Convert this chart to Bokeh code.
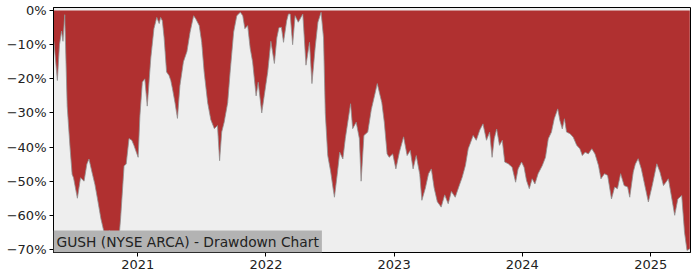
import pandas as pd
from bokeh.plotting import figure
from bokeh.models import Range1d, FixedTicker, DatetimeTickFormatter, CustomJSTickFormatter, Label, ColumnDataSource
from bokeh.embed import file_html
from bokeh.resources import INLINE

dates = [
    "2020-05-07", "2020-05-17", "2020-05-23", "2020-05-29", "2020-06-02", "2020-06-07", "2020-06-14",
    "2020-06-22", "2020-06-28", "2020-07-02", "2020-07-13", "2020-07-22", "2020-08-01", "2020-08-09",
    "2020-08-15", "2020-08-25", "2020-09-01", "2020-09-08", "2020-09-18", "2020-09-27", "2020-10-05",
    "2020-10-11", "2020-10-19", "2020-10-25", "2020-11-04", "2020-11-09", "2020-11-13", "2020-11-23",
    "2020-11-29", "2020-12-07", "2020-12-15", "2020-12-21", "2021-01-02", "2021-01-07", "2021-01-14",
    "2021-01-21", "2021-01-28", "2021-02-07", "2021-02-16", "2021-02-24", "2021-03-03", "2021-03-07",
    "2021-03-12", "2021-03-17", "2021-03-24", "2021-03-31", "2021-04-05", "2021-04-10", "2021-04-17",
    "2021-04-24", "2021-05-01", "2021-05-11", "2021-05-21", "2021-05-30", "2021-06-09", "2021-06-15",
    "2021-06-25", "2021-07-02", "2021-07-09", "2021-07-19", "2021-07-28", "2021-08-07", "2021-08-16",
    "2021-08-22", "2021-08-28", "2021-09-04", "2021-09-14", "2021-09-21", "2021-10-01", "2021-10-10",
    "2021-10-20", "2021-10-27", "2021-11-02", "2021-11-10", "2021-11-17", "2021-11-24", "2021-12-04",
    "2021-12-10", "2021-12-20", "2021-12-27", "2022-01-06", "2022-01-15", "2022-01-25", "2022-02-01",
    "2022-02-07", "2022-02-14", "2022-02-20", "2022-03-01", "2022-03-06", "2022-03-11", "2022-03-18",
    "2022-03-25", "2022-04-03", "2022-04-16", "2022-04-25", "2022-05-05", "2022-05-12", "2022-05-21",
    "2022-05-29", "2022-06-07", "2022-06-14", "2022-06-19", "2022-06-26", "2022-07-04", "2022-07-11",
    "2022-07-15", "2022-07-23", "2022-07-30", "2022-08-08", "2022-08-15", "2022-08-22", "2022-08-30",
    "2022-09-05", "2022-09-15", "2022-09-24", "2022-09-29", "2022-10-07", "2022-10-18", "2022-10-28",
    "2022-11-06", "2022-11-14", "2022-11-20", "2022-11-27", "2022-12-04", "2022-12-12", "2022-12-18",
    "2022-12-28", "2023-01-06", "2023-01-16", "2023-01-28", "2023-02-07", "2023-02-16", "2023-02-24",
    "2023-03-05", "2023-03-15", "2023-03-21", "2023-03-31", "2023-04-09", "2023-04-17", "2023-04-25",
    "2023-05-04", "2023-05-15", "2023-05-25", "2023-06-04", "2023-06-13", "2023-06-24", "2023-07-04",
    "2023-07-14", "2023-07-23", "2023-07-31", "2023-08-07", "2023-08-14", "2023-08-23", "2023-09-02",
    "2023-09-11", "2023-09-21", "2023-09-30", "2023-10-07", "2023-10-13", "2023-10-20", "2023-10-28",
    "2023-11-05", "2023-11-12", "2023-11-22", "2023-12-03", "2023-12-13", "2023-12-20", "2023-12-30",
    "2024-01-06", "2024-01-13", "2024-01-21", "2024-01-29", "2024-02-06", "2024-02-15", "2024-02-27",
    "2024-03-07", "2024-03-15", "2024-03-24", "2024-04-01", "2024-04-11", "2024-04-17", "2024-04-24",
    "2024-04-30", "2024-05-06", "2024-05-16", "2024-05-25", "2024-06-04", "2024-06-13", "2024-06-20",
    "2024-06-28", "2024-07-07", "2024-07-17", "2024-07-26", "2024-08-05", "2024-08-12", "2024-08-22",
    "2024-08-31", "2024-09-11", "2024-09-20", "2024-09-28", "2024-10-07", "2024-10-17", "2024-10-27",
    "2024-11-02", "2024-11-12", "2024-11-18", "2024-11-26", "2024-12-05", "2024-12-15", "2024-12-25",
    "2025-01-05", "2025-01-18", "2025-01-27", "2025-02-06", "2025-02-13", "2025-02-20", "2025-03-02",
    "2025-03-10", "2025-03-19", "2025-03-30", "2025-04-07", "2025-04-14", "2025-04-22",
]

drawdown = [
    -9.0, -20.5, -10.0, -6.0, -9.0, -1.2, -28.0,
    -40.0, -48.0, -49.0, -55.0, -49.0, -50.0, -45.0,
    -43.5, -48.0, -51.0, -55.0, -61.0, -65.0, -66.0,
    -64.5, -65.0, -66.5, -69.0, -66.0, -61.0, -45.5,
    -45.0, -37.5, -38.0, -39.5, -43.0, -31.0, -21.0,
    -20.0, -28.0, -14.0, -5.3, -2.0, -3.8, -2.0,
    -3.0, -8.0, -18.0, -19.0, -20.5, -23.0, -27.0,
    -31.6, -22.0, -15.0, -12.0, -6.3, -1.5, -2.4,
    -4.4, -9.3, -18.0, -27.0, -32.0, -34.6, -33.7,
    -44.0, -35.6, -32.7, -27.0, -18.0, -6.3, -1.5,
    -0.5, -1.5, -5.3, -4.4, -11.0, -15.0, -25.0,
    -21.0, -30.0, -25.0, -18.0, -9.0, -15.5, -8.0,
    -5.0, -4.9, -9.3, -3.0, -1.0, -1.0, -10.0,
    -1.5, -3.4, -1.0, -16.0, -9.3, -21.4, -11.0,
    -3.4, -0.5, -8.0, -30.0, -42.5, -47.0, -52.0,
    -54.7, -48.0, -41.5, -43.5, -37.5, -32.7, -27.3,
    -34.6, -32.7, -37.5, -50.0, -36.6, -35.6, -29.0,
    -25.0, -21.4, -24.0, -27.0, -32.7, -42.0, -43.0,
    -42.0, -46.4, -41.5, -37.0, -42.5, -41.0, -46.4,
    -42.5, -48.0, -55.6, -52.0, -47.8, -46.4, -52.0,
    -56.0, -57.6, -54.0, -56.6, -53.0, -54.7, -51.7,
    -48.8, -45.4, -40.5, -38.6, -36.6, -38.0, -35.0,
    -33.2, -38.0, -35.6, -43.0, -37.6, -34.7, -39.5,
    -38.0, -44.4, -44.9, -45.9, -50.3, -46.4, -44.4,
    -45.9, -49.8, -52.2, -49.3, -50.8, -47.8, -45.4,
    -43.0, -37.6, -35.6, -31.7, -28.8, -32.2, -34.7,
    -31.7, -35.6, -36.1, -37.1, -39.5, -40.5, -42.5,
    -41.5, -42.0, -40.5, -42.0, -45.4, -49.3, -47.8,
    -48.3, -55.2, -51.7, -52.2, -47.8, -51.3, -51.7,
    -54.7, -47.3, -45.0, -43.4, -46.4, -51.3, -56.1,
    -51.3, -44.9, -47.3, -51.3, -50.3, -49.3, -55.2,
    -60.0, -55.2, -54.2, -65.0, -70.3, -69.8,
]

year_ticks = ["2021-01-01", "2022-01-01", "2023-01-01", "2024-01-01", "2025-01-01"]
y_ticks = [0, -10, -20, -30, -40, -50, -60, -70]
title_text = "GUSH (NYSE ARCA) - Drawdown Chart"

x = pd.to_datetime(dates)
src = ColumnDataSource(dict(x=x, dd=drawdown, zero=[0.0] * len(drawdown)))

p = figure(width=700, height=280, x_axis_type="datetime", output_backend="svg",
           toolbar_location=None,
           x_range=Range1d(pd.Timestamp("2020-05-06"), pd.Timestamp("2025-04-24")),
           y_range=Range1d(-70.9, 0.9))
p.min_border_left = 53
p.min_border_right = 10
p.min_border_top = 7
p.min_border_bottom = 28
p.background_fill_color = "#eeeeee"
p.border_fill_color = "white"
p.outline_line_color = "black"
p.outline_line_width = 1
p.xgrid.visible = False
p.ygrid.visible = False

p.varea(x="x", y1="zero", y2="dd", source=src, fill_color="#b03030")
p.line(x="x", y="dd", source=src, line_color="#909090", line_width=0.8)

tick_ms = [pd.Timestamp(t).value / 1e6 for t in year_ticks]
p.xaxis.ticker = FixedTicker(ticks=tick_ms)
p.xaxis.formatter = DatetimeTickFormatter(years="%Y", months="%Y", days="%Y", hours="%Y")
p.yaxis.ticker = FixedTicker(ticks=y_ticks)
p.yaxis.formatter = CustomJSTickFormatter(code="return (tick < 0 ? '\\u2212' : '') + Math.abs(tick).toFixed(0) + '%';")

for ax in (p.xaxis[0], p.yaxis[0]):
    ax.axis_line_color = "black"
    ax.major_tick_line_color = "black"
    ax.major_tick_out = 4
    ax.major_tick_in = 0
    ax.minor_tick_line_color = None
    ax.major_label_text_font = "DejaVu Sans"
    ax.major_label_text_font_size = "13px"
    ax.major_label_text_color = "#222222"
    ax.major_label_standoff = 3

lab = Label(x=pd.Timestamp("2020-05-06").value / 1e6, y=-70.9, text=title_text,
            text_font="DejaVu Sans", text_font_size="13.8px", text_color="#222222",
            text_align="left", text_baseline="bottom",
            background_fill_color="#b3b3b3", padding=3)
p.add_layout(lab)

open("out.html", "w").write(file_html(p, INLINE))
